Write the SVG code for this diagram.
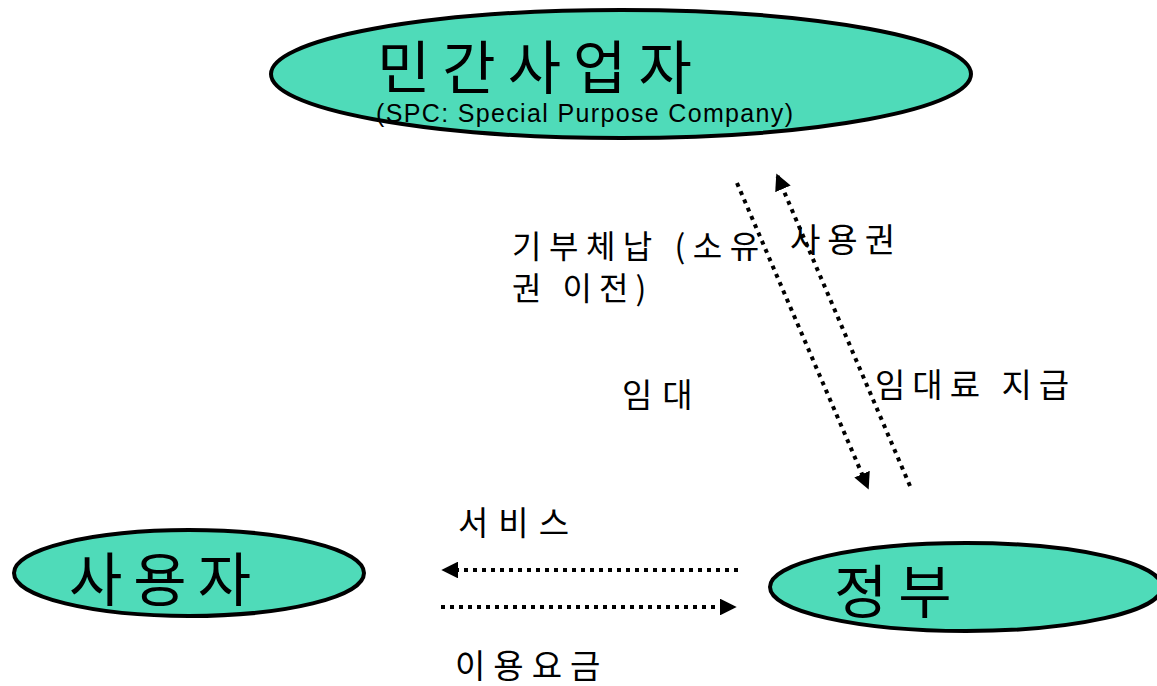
<svg xmlns="http://www.w3.org/2000/svg" width="1157" height="686" viewBox="0 0 1157 686">
<style>
.node{fill:#4FDBB9;stroke:#000;stroke-width:4}
.big{font-family:"Noto Sans CJK KR","Noto Sans",sans-serif;font-size:58px;letter-spacing:11px;fill:#000}
.lbl{font-family:"Noto Sans CJK KR","Noto Sans",sans-serif;font-size:33px;letter-spacing:7px;fill:#000}
.sub{font-family:"Liberation Sans",Arial,sans-serif;font-size:25px;fill:#000}
.conn{fill:none;stroke:#000;stroke-width:4;stroke-dasharray:4 5}
</style>
<defs>
<marker id="ah" viewBox="0 0 10 10" refX="9" refY="5" markerWidth="4.2" markerHeight="4.2" markerUnits="strokeWidth" orient="auto">
<path d="M0,0 L10,5 L0,10 Z" fill="#000"/>
</marker>
</defs>
<rect width="1157" height="686" fill="#fff"/>
<g id="spc">
<ellipse class="node" cx="621" cy="74" rx="350" ry="64"/>
<text class="big" x="377" y="89" style="letter-spacing:12px">민간사업자</text>
<text class="sub" x="376" y="122" textLength="417" lengthAdjust="spacing">(SPC: Special Purpose Company)</text>
</g>
<g id="user">
<ellipse class="node" cx="189" cy="573" rx="175" ry="43"/>
<text class="big" x="69" y="601">사용자</text>
</g>
<g id="gov">
<ellipse class="node" cx="966" cy="587" rx="196" ry="44"/>
<text class="big" x="834" y="613">정부</text>
</g>
<g id="connectors">
<line class="conn" x1="737" y1="183" x2="868" y2="488" marker-end="url(#ah)"/>
<line class="conn" x1="910" y1="486" x2="777" y2="175" marker-end="url(#ah)"/>
<line class="conn" x1="738" y1="570" x2="443" y2="570" marker-end="url(#ah)"/>
<line class="conn" x1="441" y1="607" x2="735" y2="607" marker-end="url(#ah)"/>
</g>
<g id="labels">
<text class="lbl" x="512" y="258" style="font-size:32px;letter-spacing:7.5px">기부체납 (소유</text>
<text class="lbl" x="512" y="300" style="font-size:32px;letter-spacing:7px">권 이전)</text>
<text class="lbl" x="790" y="252">사용권</text>
<text class="lbl" x="622" y="407" style="letter-spacing:10px">임대</text>
<text class="lbl" x="875" y="397">임대료 지급</text>
<text class="lbl" x="458" y="535" style="letter-spacing:10px">서비스</text>
<text class="lbl" x="455" y="678" style="letter-spacing:8px">이용요금</text>
</g>
</svg>
